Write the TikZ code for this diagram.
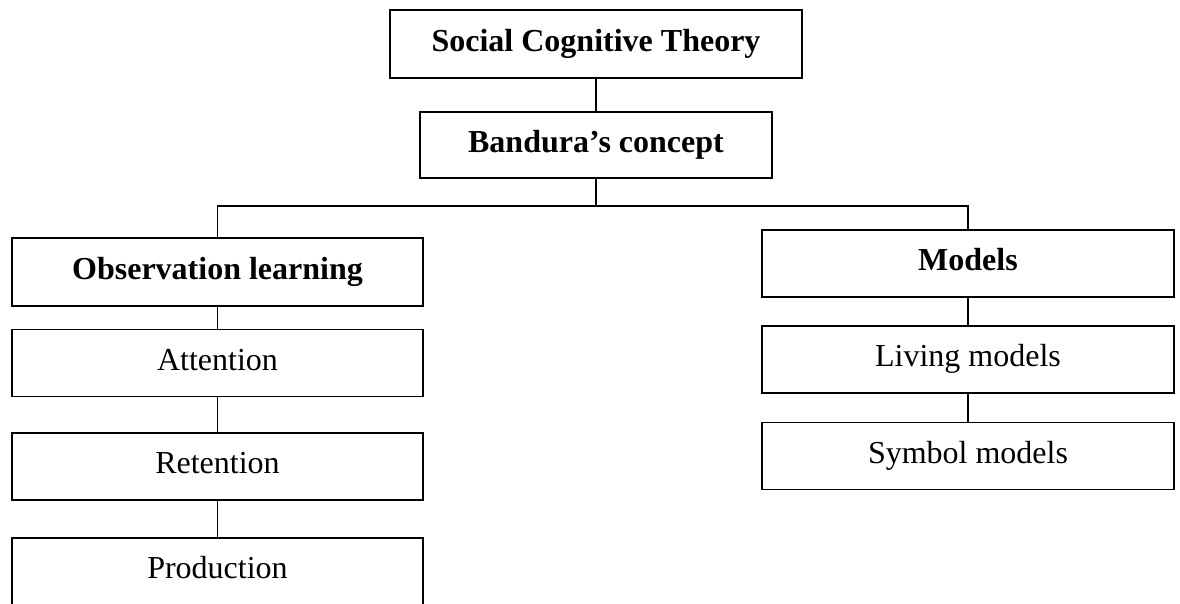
\documentclass[tikz,border=0pt]{standalone}
\usepackage{fontspec}
\setmainfont{Liberation Serif}
\begin{document}
\begin{tikzpicture}[x=1pt,y=-1pt,
  box/.style={draw=black,line width=1.9pt,rectangle,inner sep=0pt,
    text height=22pt,text depth=8pt,
    font=\fontsize{32}{38}\selectfont},
  bbox/.style={box,font=\fontsize{32}{38}\selectfont\bfseries},
  conn/.style={draw=black,line width=1.8pt}]
\path[use as bounding box,clip] (0,0) rectangle (1180,603);
\fill[white] (0,0) rectangle (1180,603);
\node[bbox,minimum width=412pt,minimum height=68pt] (sct) at (596,44) {Social Cognitive Theory};
\node[bbox,minimum width=352pt,minimum height=66pt] (band) at (596,145) {Bandura’s concept};
\node[bbox,minimum width=411pt,minimum height=68pt] (obs) at (217.5,272) {Observation learning};
\node[bbox,minimum width=412pt,minimum height=67pt] (mod) at (968,263.5) {Models};
\node[box,minimum width=411pt,minimum height=67pt] (att) at (217.5,363) {Attention};
\node[box,minimum width=411pt,minimum height=67pt] (ret) at (217.5,466.5) {Retention};
\node[box,minimum width=411pt,minimum height=67pt] (pro) at (217.5,571.5) {Production};
\node[box,minimum width=412pt,minimum height=67pt] (liv) at (968,359.5) {Living models};
\node[box,minimum width=412pt,minimum height=67pt] (sym) at (968,456) {Symbol models};
\coordinate (bus) at (596,206);
\draw[conn] (sct.south) -- (band.north);
\draw[conn] (band.south) -- (band.south |- bus);
\draw[conn] (obs.north) -- ([yshift=-4pt]obs.north |- bus) -- (obs.north |- bus) -- (mod.north |- bus) -- (mod.north);
\draw[conn] (obs.south) -- (att.north);
\draw[conn] (att.south) -- (ret.north);
\draw[conn] (ret.south) -- (pro.north);
\draw[conn] (mod.south) -- (liv.north);
\draw[conn] (liv.south) -- (sym.north);
\end{tikzpicture}
\end{document}
